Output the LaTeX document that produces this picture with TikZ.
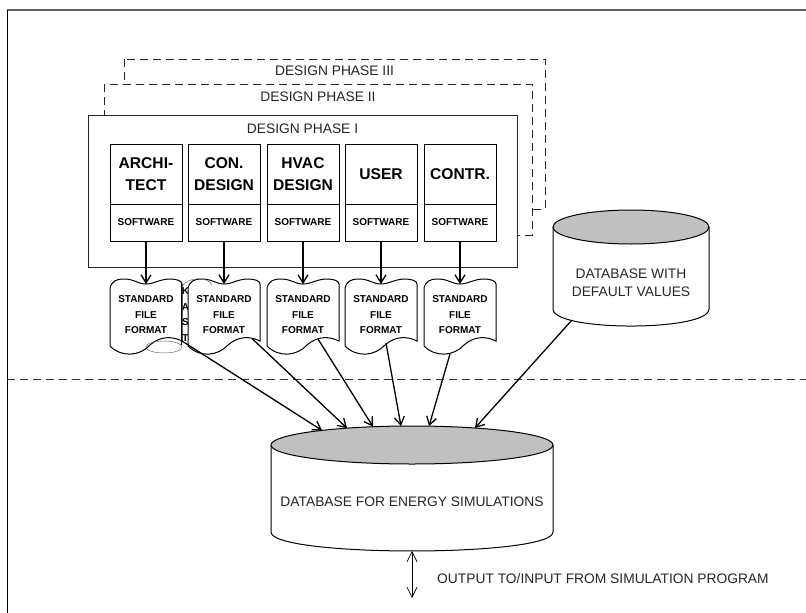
\documentclass[tikz,border=0pt]{standalone}
\usepackage{fontspec}
\setmainfont{Liberation Sans}
\usetikzlibrary{arrows.meta}

\definecolor{dbgray}{HTML}{C0C0C0}
\definecolor{framegray}{HTML}{606060}

% paper-tape style file symbol, left edge at x = #1
\newcommand\stdfileshape[1]{%
  \draw[docline] (#1,288) .. controls (#1+2,281) and (#1+6,279) .. (#1+14,279)
    .. controls (#1+24,279) and (#1+28,284) .. (#1+36,284)
    .. controls (#1+44,284) and (#1+50,279) .. (#1+60,279)
    .. controls (#1+67,279) and (#1+72,281) .. (#1+72,284)
    -- (#1+72,341)
    .. controls (#1+62,336) and (#1+50,336) .. (#1+40,345)
    .. controls (#1+30,356) and (#1+12,358) .. (#1,346) -- cycle;}

\begin{document}
\begin{tikzpicture}[x=1pt,y=-1pt,
  phasebox/.style={draw=black!85, fill=white, line width=0.8pt},
  phasedash/.style={phasebox, dash pattern=on 8pt off 5pt},
  phasetitle/.style={font=\fontsize{13.8}{16}\selectfont, text=black!85, inner sep=0pt},
  rolebox/.style={draw, fill=white, line width=0.9pt, minimum width=72pt, minimum height=60pt,
    inner sep=0pt, align=center, font=\fontsize{15.6}{22}\selectfont\bfseries},
  softbox/.style={draw, fill=white, line width=0.9pt, minimum width=72pt, minimum height=37pt,
    inner sep=0pt, font=\fontsize{10}{12}\selectfont\bfseries},
  docline/.style={draw, fill=white, line width=1pt},
  doctext/.style={inner sep=0pt, align=center, font=\fontsize{10}{15.5}\selectfont\bfseries},
  dbline/.style={draw, line width=1pt},
  dbtext/.style={inner sep=0pt, align=center, font=\fontsize{13.8}{18}\selectfont, text=black!85},
  flow/.style={line width=1.3pt, -{Straight Barb[length=8pt,width=10pt,line width=1.3pt]}},
  faint/.style={draw=black!60, line width=0.5pt}
]
\useasboundingbox (0,0) rectangle (806,613);

% page frame
\draw[framegray, line width=1.2pt] (806,10) -- (7,10);
\draw[black, line width=1pt] (7,10) -- (7,613);

% design phases
\draw[phasedash] (124,59) rectangle (545,209);
\node[phasetitle] (ph3) at (334.5,71) {DESIGN PHASE III};
\draw[phasedash] (104,84) rectangle (532,235);
\node[phasetitle] (ph2) at (318,97) {DESIGN PHASE II};
\draw[phasebox] (88,115) rectangle (517,267);
\node[phasetitle] (ph1) at (302.5,129) {DESIGN PHASE I};

% participants and their software
\node[rolebox] (arch) at (146,174) {ARCHI-\\TECT};
\node[rolebox] (con)  at (224,174) {CON.\\DESIGN};
\node[rolebox] (hvac) at (303,174) {HVAC\\DESIGN};
\node[rolebox] (user) at (381,174) {USER};
\node[rolebox] (contr) at (460,174) {CONTR.};
\node[softbox] (archsw) at (146,222.5) {SOFTWARE};
\node[softbox] (consw)  at (224,222.5) {SOFTWARE};
\node[softbox] (hvacsw) at (303,222.5) {SOFTWARE};
\node[softbox] (usersw) at (381,222.5) {SOFTWARE};
\node[softbox] (contrsw) at (460,222.5) {SOFTWARE};

% standard file format documents
\stdfileshape{110}
% narrow overlapped symbol between the first two files
\draw[black, line width=1.6pt] (181.5,282) -- (181.5,345);
\begin{scope}
  \clip (182.5,280) rectangle (188,350);
  \node[doctext] (k1) at (185.5,291) {K};
  \node[doctext] (k2) at (185.5,307) {A};
  \node[doctext] (k3) at (185.5,322.5) {S};
  \node[doctext] (k4) at (185.5,338) {T};
\end{scope}
\draw[faint] (164,347) ellipse [x radius=18, y radius=6];
\stdfileshape{188}
\draw[faint] (182,287) .. controls (186,277) and (208,276) .. (212,285);
\stdfileshape{267}
\stdfileshape{345}
\stdfileshape{424}

\node[doctext] (sff1) at (146,315) {STANDARD\\FILE\\FORMAT};
\node[doctext] (sff2) at (224,315) {STANDARD\\FILE\\FORMAT};
\node[doctext] (sff3) at (303,315) {STANDARD\\FILE\\FORMAT};
\node[doctext] (sff4) at (381,315) {STANDARD\\FILE\\FORMAT};
\node[doctext] (sff5) at (460,315) {STANDARD\\FILE\\FORMAT};

\coordinate (t1) at (146,284);
\coordinate (t2) at (224,284);
\coordinate (t3) at (303,284);
\coordinate (t4) at (381,284);
\coordinate (t5) at (460,284);
\draw[flow] (archsw.south) -- (t1);
\draw[flow] (consw.south) -- (t2);
\draw[flow] (hvacsw.south) -- (t3);
\draw[flow] (usersw.south) -- (t4);
\draw[flow] (contrsw.south) -- (t5);

% database with default values
\draw[dbline, fill=white] (553,227) -- (553,309)
  .. controls (553,331.7) and (709,331.7) .. (709,309) -- (709,227);
\draw[dbline, fill=dbgray] (631,227) ellipse [x radius=78, y radius=17];
\node[dbtext] (defdb) at (631,283) {DATABASE WITH\\DEFAULT VALUES};

% database for energy simulations
\draw[dbline, fill=white] (271,445) -- (271,532)
  .. controls (271,557.3) and (553,557.3) .. (553,532) -- (553,445);
\draw[dbline, fill=dbgray] (412,445) ellipse [x radius=141, y radius=19];
\node[dbtext] (simdb) at (412,502) {DATABASE FOR ENERGY SIMULATIONS};

% boundary of the design process
\draw[black!80, line width=1pt, dash pattern=on 8pt off 5pt] (7,379) -- (806,379);

% transfer into the simulation database
\coordinate (s1) at (182,341);
\coordinate (s2) at (252,338.5);
\coordinate (s3) at (318,339);
\coordinate (s4) at (386,343);
\coordinate (s5) at (450,354);
\coordinate (s6) at (572,320);
\coordinate (e1) at (322,430.4);
\coordinate (e2) at (347,428.1);
\coordinate (e3) at (373,426.7);
\coordinate (e4) at (401,426.1);
\coordinate (e5) at (429,426.1);
\coordinate (e6) at (475,428);
\draw[flow] (s1) -- (e1);
\draw[flow] (s2) -- (e2);
\draw[flow] (s3) -- (e3);
\draw[flow] (s4) -- (e4);
\draw[flow] (s5) -- (e5);
\draw[flow] (s6) -- (e6);

% exchange with the simulation program
\coordinate (io1) at (412,551);
\coordinate (io2) at (412,598);
\draw[line width=0.7pt, {Straight Barb[length=10pt,width=10pt,line width=0.7pt]}-{Straight Barb[length=10pt,width=10pt,line width=0.7pt]}] (io1) -- (io2);
\node[dbtext, anchor=west] (iotext) at (437,579) {OUTPUT TO/INPUT FROM SIMULATION PROGRAM};
\end{tikzpicture}
\end{document}
